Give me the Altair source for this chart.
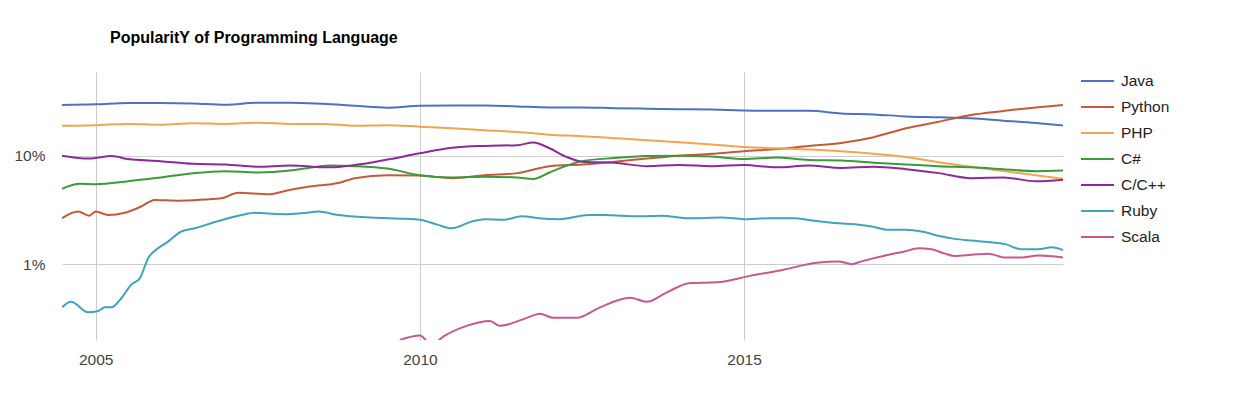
import altair as alt
import pandas as pd

title_text = ["PopularitY of Programming Language"]
languages = ["Java", "Python", "PHP", "C#", "C/C++", "Ruby", "Scala"]
colors = ["#4e73be", "#c45a3c", "#f1a54c", "#3c9a3a", "#8c2a9c", "#43a2c0", "#c65a8c"]

java_years = [2004.48, 2005, 2005.5, 2006, 2006.5, 2007, 2007.5, 2008, 2008.5, 2009, 2009.5, 2010,
              2010.5, 2011, 2011.5, 2012, 2012.5, 2013, 2013.5, 2014, 2014.5, 2015, 2015.5, 2016,
              2016.5, 2017, 2017.5, 2018, 2018.5, 2019, 2019.5, 2019.92]
java_share = [29.3, 29.7, 30.6, 30.6, 30.3, 29.5, 30.8, 30.8, 30.0, 28.8, 27.7, 28.8,
              29.0, 29.0, 28.4, 27.8, 27.8, 27.4, 27.1, 26.8, 26.6, 26.1, 25.9, 25.9,
              24.5, 24.0, 23.0, 22.6, 22.1, 21.0, 20.0, 19.0]

php_years = java_years
php_share = [18.9, 19.1, 19.6, 19.3, 19.9, 19.6, 20.1, 19.6, 19.6, 18.9, 19.1, 18.5,
             17.9, 17.1, 16.5, 15.6, 15.1, 14.5, 13.9, 13.3, 12.7, 12.0, 11.7, 11.4,
             11.0, 10.4, 9.7, 8.7, 7.9, 7.2, 6.6, 6.1]

python_years = [2004.48, 2004.73, 2004.9, 2005.0, 2005.19, 2005.45, 2005.7, 2005.91, 2006.27,
                2006.68, 2006.94, 2007.2, 2007.66, 2007.97, 2008.3, 2008.74, 2009.0, 2009.5,
                2010, 2010.5, 2011, 2011.5, 2012, 2012.5, 2013, 2013.5, 2014, 2014.5, 2015,
                2015.5, 2016, 2016.5, 2017, 2017.5, 2018, 2018.5, 2019, 2019.5, 2019.92]
python_share = [2.65, 3.05, 2.8, 3.05, 2.84, 2.98, 3.4, 3.9, 3.85,
                3.95, 4.05, 4.55, 4.4, 4.8, 5.2, 5.6, 6.2, 6.6,
                6.55, 6.2, 6.6, 6.9, 8.0, 8.3, 8.8, 9.4, 10.0, 10.4, 11.0,
                11.5, 12.3, 13.1, 14.8, 17.9, 20.5, 23.7, 25.8, 27.8, 29.3]

csharp_years = [2004.48, 2004.75, 2005, 2005.5, 2006, 2006.5, 2007, 2007.5, 2008, 2008.25,
                2008.6, 2009, 2009.5, 2010, 2010.5, 2011, 2011.5, 2011.75, 2012.0, 2012.25,
                2012.5, 2013, 2013.5, 2014, 2014.5, 2015, 2015.5, 2016, 2016.5, 2017,
                2017.5, 2018, 2018.5, 2019, 2019.5, 2019.92]
csharp_share = [4.94, 5.5, 5.45, 5.8, 6.3, 6.9, 7.2, 7.0, 7.3, 7.65,
                8.1, 8.0, 7.6, 6.6, 6.3, 6.4, 6.3, 6.1, 7.0, 8.0,
                8.9, 9.5, 9.9, 10.0, 9.8, 9.3, 9.6, 9.1, 9.0, 8.6,
                8.3, 8.0, 7.8, 7.5, 7.2, 7.3]

cpp_years = [2004.48, 2004.9, 2005.25, 2005.5, 2006, 2006.5, 2007, 2007.5, 2008, 2008.6,
             2009, 2009.5, 2010, 2010.5, 2011, 2011.5, 2011.75, 2012.0, 2012.25, 2012.5,
             2013, 2013.5, 2014, 2014.5, 2015, 2015.5, 2016, 2016.5, 2017, 2017.5,
             2018, 2018.5, 2019, 2019.5, 2019.92]
cpp_share = [10.0, 9.4, 9.9, 9.3, 8.9, 8.4, 8.3, 7.9, 8.1, 7.8,
             8.2, 9.2, 10.5, 11.8, 12.3, 12.5, 13.2, 11.7, 9.8, 8.8,
             8.6, 8.0, 8.2, 8.0, 8.2, 7.8, 8.1, 7.7, 7.9, 7.5,
             6.9, 6.2, 6.3, 5.8, 6.0]

ruby_years = [2004.48, 2004.62, 2004.88, 2005.04, 2005.14, 2005.24, 2005.40, 2005.55, 2005.68,
              2005.81, 2005.96, 2006.12, 2006.32, 2006.53, 2006.78, 2007.04, 2007.25, 2007.45,
              2007.71, 2007.97, 2008.3, 2008.43, 2008.74, 2009.25, 2009.77, 2010.0, 2010.28,
              2010.49, 2010.8, 2011.0, 2011.3, 2011.57, 2011.83, 2012.16, 2012.6, 2012.85,
              2013.37, 2013.73, 2014.14, 2014.66, 2015.0, 2015.37, 2015.78, 2016.0, 2016.46,
              2016.71, 2016.97, 2017.23, 2017.48, 2017.74, 2017.99, 2018.25, 2018.51, 2018.77,
              2019.03, 2019.28, 2019.54, 2019.75, 2019.92]
ruby_share = [0.40, 0.45, 0.36, 0.37, 0.40, 0.40, 0.49, 0.65, 0.74,
              1.14, 1.40, 1.62, 2.0, 2.14, 2.38, 2.65, 2.84, 2.98,
              2.92, 2.89, 3.0, 3.05, 2.84, 2.69, 2.62, 2.57, 2.30,
              2.14, 2.47, 2.60, 2.57, 2.76, 2.65, 2.60, 2.84, 2.84,
              2.76, 2.80, 2.65, 2.69, 2.60, 2.65, 2.65, 2.55, 2.38,
              2.33, 2.22, 2.07, 2.07, 2.0, 1.83, 1.71, 1.65, 1.60,
              1.53, 1.37, 1.37, 1.43, 1.35]

scala_years = [2009.69, 2010.0, 2010.18, 2010.36, 2010.72, 2011.08, 2011.23, 2011.65, 2011.85,
               2012.06, 2012.42, 2012.78, 2013.24, 2013.5, 2013.81, 2014.17, 2014.58, 2015.09,
               2015.61, 2016.12, 2016.46, 2016.66, 2016.81, 2017.23, 2017.48, 2017.69, 2017.89,
               2018.1, 2018.25, 2018.51, 2018.77, 2019.03, 2019.28, 2019.54, 2019.92]
scala_share = [0.20, 0.22, 0.18, 0.215, 0.27, 0.30, 0.27, 0.32, 0.35,
               0.32, 0.32, 0.40, 0.49, 0.45, 0.55, 0.67, 0.68, 0.78,
               0.89, 1.03, 1.06, 1.0, 1.06, 1.22, 1.31, 1.40, 1.37,
               1.25, 1.19, 1.22, 1.25, 1.15, 1.15, 1.20, 1.15]

series = [
    ("Java", java_years, java_share),
    ("Python", python_years, python_share),
    ("PHP", php_years, php_share),
    ("C#", csharp_years, csharp_share),
    ("C/C++", cpp_years, cpp_share),
    ("Ruby", ruby_years, ruby_share),
    ("Scala", scala_years, scala_share),
]
rows = []
for name, ys, vs in series:
    for yr, v in zip(ys, vs):
        rows.append({"language": name, "year": yr, "share": v})
df = pd.DataFrame(rows)

FONT = "Arial, Liberation Sans, sans-serif"

lines = alt.Chart(df).mark_line(strokeWidth=2, clip=True, interpolate="monotone").encode(
    x=alt.X("year:Q",
            scale=alt.Scale(domain=[2004.48, 2019.92], nice=False, zero=False),
            axis=alt.Axis(values=[2005, 2010, 2015], format="d", title=None, grid=True,
                          gridColor="#cccccc", domain=False, ticks=False, labelFontSize=15.5,
                          labelColor="#444444", labelPadding=12, labelFont=FONT)),
    y=alt.Y("share:Q",
            scale=alt.Scale(type="log", domain=[0.2, 59], nice=False),
            axis=alt.Axis(values=[1, 10], labelExpr="datum.value + '%'", title=None, grid=True,
                          gridColor="#cccccc", domain=False, ticks=False, labelFontSize=15.5,
                          labelColor="#444444", labelPadding=17, labelFont=FONT)),
    color=alt.Color("language:N",
                    scale=alt.Scale(domain=languages, range=colors),
                    sort=languages,
                    legend=alt.Legend(title=None, orient="none", legendX=1018, legendY=-4,
                                      symbolType="stroke", symbolSize=1089, symbolStrokeWidth=2,
                                      clipHeight=26, rowPadding=0, labelFontSize=15.5,
                                      labelColor="#222222", labelOffset=6, labelFont=FONT)),
)

title = alt.Chart(pd.DataFrame({"t": title_text})).mark_text(
    align="left", baseline="middle", fontSize=16, fontWeight="bold", font=FONT, color="#000000"
).encode(text="t:N", x=alt.value(48), y=alt.value(-34))

chart = alt.layer(lines, title).properties(
    width=1001,
    height=268,
    autosize=alt.AutoSizeParams(type="none"),
    padding={"left": 54, "top": 64, "right": 165, "bottom": 50},
).configure_view(stroke=None)

chart.save("out.html", embed_options={"renderer": "svg", "actions": False})
